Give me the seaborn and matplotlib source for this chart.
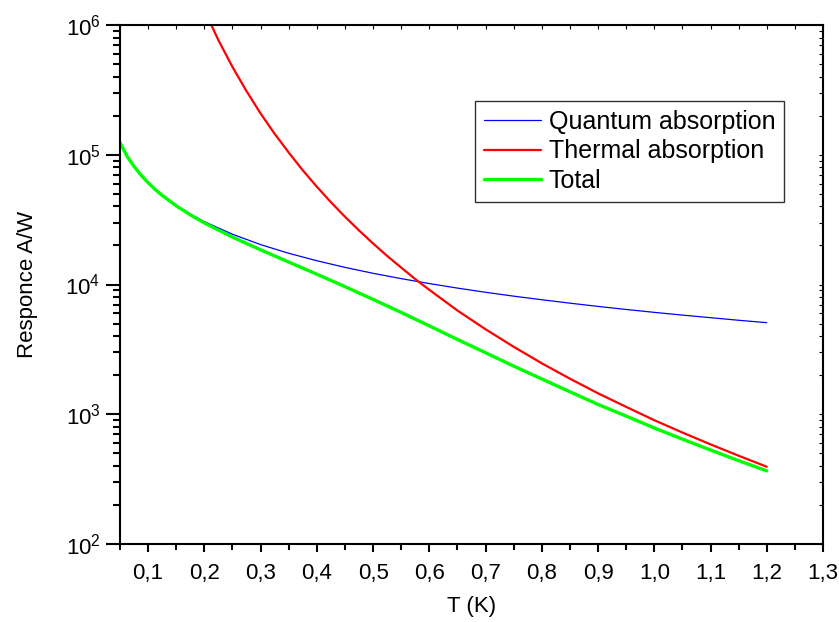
import matplotlib
matplotlib.use("Agg")
import matplotlib.pyplot as plt
import matplotlib.ticker as mticker
import numpy as np
import seaborn as sns

# Temperature grid (K) and responsivity (A/W) of each mechanism
T_quantum = [0.05, 0.0625, 0.075, 0.0875, 0.10, 0.1125, 0.125, 0.15, 0.175, 0.20,
             0.25, 0.30, 0.35, 0.40, 0.45, 0.50, 0.55, 0.60, 0.65, 0.70, 0.75,
             0.80, 0.85, 0.90, 0.95, 1.00, 1.05, 1.10, 1.15, 1.20]
quantum = [1.24e5, 9.76e4, 8.13e4, 6.97e4, 6.10e4, 5.42e4, 4.88e4, 4.07e4, 3.49e4,
           3.05e4, 2.44e4, 2.03e4, 1.74e4, 1.525e4, 1.355e4, 1.22e4, 1.11e4,
           1.017e4, 9.38e3, 8.71e3, 8.13e3, 7.63e3, 7.18e3, 6.78e3, 6.42e3,
           6.10e3, 5.81e3, 5.55e3, 5.30e3, 5.08e3]

T_thermal = [0.20, 0.225, 0.25, 0.275, 0.30, 0.325, 0.35, 0.375, 0.40, 0.425, 0.45,
             0.475, 0.50, 0.525, 0.55, 0.575, 0.60, 0.65, 0.70, 0.75, 0.80, 0.85,
             0.90, 0.95, 1.00, 1.05, 1.10, 1.15, 1.20]
thermal = [1.30e6, 7.64e5, 4.75e5, 3.09e5, 2.08e5, 1.45e5, 1.04e5, 7.59e4, 5.67e4,
           4.31e4, 3.33e4, 2.61e4, 2.07e4, 1.66e4, 1.35e4, 1.10e4, 9.10e3, 6.30e3,
           4.52e3, 3.31e3, 2.47e3, 1.88e3, 1.45e3, 1.14e3, 900, 723, 586, 479, 394]

T_total = [0.05, 0.0625, 0.075, 0.0875, 0.10, 0.1125, 0.125, 0.15, 0.175, 0.20,
           0.25, 0.30, 0.35, 0.40, 0.45, 0.50, 0.55, 0.60, 0.65, 0.70, 0.75,
           0.80, 0.85, 0.90, 0.95, 1.00, 1.05, 1.10, 1.15, 1.20]
total = [1.24e5, 9.75e4, 8.12e4, 6.96e4, 6.09e4, 5.40e4, 4.86e4, 4.04e4, 3.44e4,
         2.98e4, 2.32e4, 1.85e4, 1.49e4, 1.20e4, 9.63e3, 7.68e3, 6.09e3, 4.80e3,
         3.77e3, 2.98e3, 2.35e3, 1.87e3, 1.49e3, 1.19e3, 968, 784, 643, 530,
         439, 366]

x_ticks = [0.1, 0.2, 0.3, 0.4, 0.5, 0.6, 0.7, 0.8, 0.9, 1.0, 1.1, 1.2, 1.3]
x_tick_labels = ["0,1", "0,2", "0,3", "0,4", "0,5", "0,6", "0,7", "0,8", "0,9",
                 "1,0", "1,1", "1,2", "1,3"]

sns.set_style("ticks")
plt.rcParams["font.family"] = ["Liberation Sans", "DejaVu Sans"]
plt.rcParams["mathtext.fontset"] = "custom"
plt.rcParams["mathtext.rm"] = "Liberation Sans"
plt.rcParams["mathtext.it"] = "Liberation Sans"
plt.rcParams["text.color"] = "black"
plt.rcParams["axes.labelcolor"] = "black"

fig = plt.figure(figsize=(8.39, 6.22), dpi=100)
ax = fig.add_axes([120 / 839, 1 - 544 / 622, (823 - 120) / 839, (544 - 25) / 622])

sns.lineplot(x=T_quantum, y=quantum, ax=ax, color="#0000ff", lw=0.9,
             label="Quantum absorption")
sns.lineplot(x=T_thermal, y=thermal, ax=ax, color="#ff0000", lw=1.6,
             label="Thermal absorption")
sns.lineplot(x=T_total, y=total, ax=ax, color="#00ff00", lw=2.4, label="Total")

ax.set_yscale("log")
ax.set_xlim(0.05, 1.3)
ax.set_ylim(1e2, 1e6)

ax.set_xticks(x_ticks)
ax.set_xticklabels(x_tick_labels)
ax.xaxis.set_minor_locator(mticker.MultipleLocator(0.05))
ax.yaxis.set_major_locator(mticker.LogLocator(base=10, numticks=10))
ax.yaxis.set_minor_locator(mticker.LogLocator(base=10, subs=np.arange(2, 10), numticks=20))
ax.yaxis.set_minor_formatter(mticker.NullFormatter())

for side in ["left", "bottom", "top", "right"]:
    ax.spines[side].set_visible(True)
    ax.spines[side].set_linewidth(1.5)
    ax.spines[side].set_color("black")

ax.tick_params(axis="both", which="major", direction="out", length=6, width=1.5,
               labelsize=16, colors="black", labelcolor="black", pad=8)
ax.tick_params(axis="both", which="minor", direction="out", length=4, width=1.5,
               colors="black")
ax.tick_params(axis="y", which="major", length=10, pad=4)
ax.tick_params(axis="y", which="minor", length=5)

# Inward ticks on the top and right frame
top = ax.secondary_xaxis("top")
top.set_xticks(x_ticks)
top.xaxis.set_minor_locator(mticker.MultipleLocator(0.05))
top.tick_params(which="both", direction="in", length=3, width=0.8, labeltop=False,
                colors="black")
top.spines["top"].set_visible(False)
right = ax.secondary_yaxis("right")
right.yaxis.set_major_locator(mticker.LogLocator(base=10, numticks=10))
right.yaxis.set_minor_locator(mticker.LogLocator(base=10, subs=np.arange(2, 10), numticks=20))
right.tick_params(which="both", direction="in", length=3, width=0.8, labelright=False,
                  colors="black")
right.spines["right"].set_visible(False)

ax.set_xlabel("T (K)", fontsize=16, labelpad=8)
ax.set_ylabel("Responce A/W", fontsize=16, labelpad=20)

leg = ax.legend(loc="upper left", bbox_to_anchor=(475 / 839, 1 - 101 / 622),
                bbox_transform=fig.transFigure, fontsize=18, frameon=True,
                fancybox=False, borderaxespad=0, handlelength=2.3,
                handletextpad=0.3, labelspacing=0.22, borderpad=0.35)
leg.get_frame().set_edgecolor("black")
leg.get_frame().set_linewidth(1.0)

fig.savefig("out.png", dpi=100)
